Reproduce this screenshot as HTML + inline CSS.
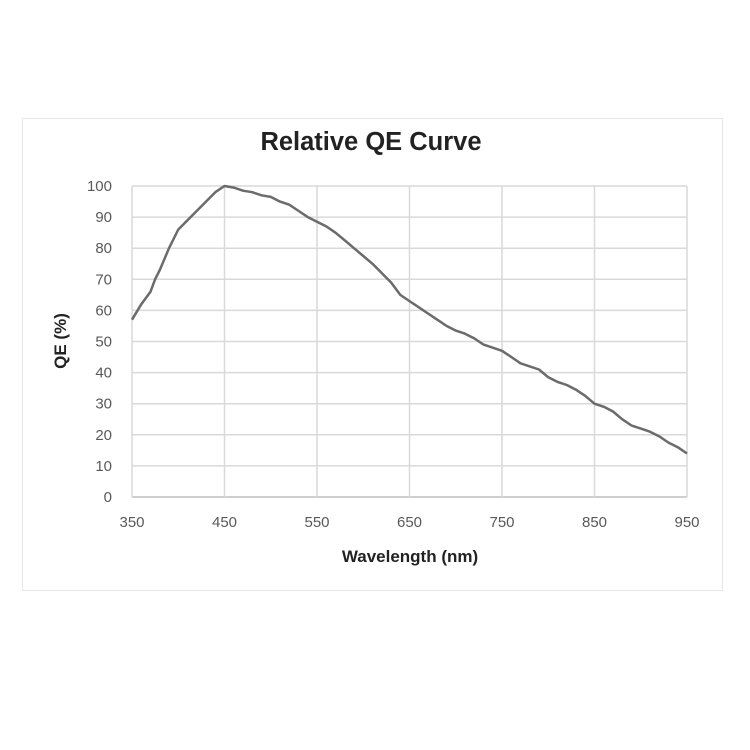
<!DOCTYPE html>
<html><head><meta charset="utf-8"><style>
body{margin:0;background:#fff;}
svg{display:block;font-family:"Liberation Sans",sans-serif;}
</style></head><body>
<svg width="750" height="750">
<rect x="22.5" y="118.5" width="700" height="472" fill="#fff" stroke="#e6e6e6"/>
<text x="371" y="150" text-anchor="middle" font-size="25.5" font-weight="bold" fill="#222">Relative QE Curve</text>
<g id="grid"></g>
<g id="ticks"></g>
<path id="curve" fill="none" stroke="#6b6b6b" stroke-width="2.5" stroke-linejoin="round"/>
<text x="410" y="562" text-anchor="middle" font-size="17" font-weight="bold" fill="#222">Wavelength (nm)</text>
<text transform="translate(66,341) rotate(-90)" text-anchor="middle" font-size="17" font-weight="bold" fill="#222">QE (%)</text>
</svg>
<script>
const wavelengths=[350,360,370,375,380,390,400,410,420,430,440,450,460,470,480,490,500,510,520,530,540,550,560,570,580,590,600,610,620,630,640,650,660,670,680,690,700,710,720,730,740,750,760,770,780,790,800,810,820,830,840,850,860,870,880,890,900,910,920,930,940,950];
const qeValues=[57,62,66,70,73,80,86,89,92,95,98,100,99.5,98.5,98,97,96.5,95,94,92,90,88.5,87,85,82.5,80,77.5,75,72,69,65,63,61,59,57,55,53.5,52.5,51,49,48,47,45,43,42,41,38.5,37,36,34.5,32.5,30,29,27.5,25,23,22,21,19.5,17.5,16,14];
const xTicks=[350,450,550,650,750,850,950];
const yTicks=[0,10,20,30,40,50,60,70,80,90,100];
const X0=132,X1=687,Y0=497,Y1=186;
const xs=v=>X0+(v-350)/600*(X1-X0);
const ys=v=>Y0-v/100*(Y0-Y1);
const NS="http://www.w3.org/2000/svg";
const grid=document.getElementById('grid'),ticks=document.getElementById('ticks');
function mk(tag,attrs,parent){const e=document.createElementNS(NS,tag);for(const k in attrs)e.setAttribute(k,attrs[k]);parent.appendChild(e);return e;}
yTicks.forEach(t=>{
  const l=mk('line',{x1:X0,x2:X1,y1:ys(t),y2:ys(t),stroke:t===0?'#bfbfbf':'#d9d9d9','stroke-width':1.5},grid);
  
  
  const tx=mk('text',{x:112,y:ys(t)+5,'text-anchor':'end','font-size':15,fill:'#595959'},ticks);
  tx.textContent=t;
  
  
});
xTicks.forEach(t=>{
  const l=mk('line',{x1:xs(t),x2:xs(t),y1:Y1,y2:Y0,stroke:'#d9d9d9','stroke-width':1.5},grid);
  
  
  const tx=mk('text',{x:xs(t),y:527,'text-anchor':'middle','font-size':15,fill:'#595959'},ticks);
  tx.textContent=t;
  
  
});
document.getElementById('curve').setAttribute('d',wavelengths.map((w,i)=>(i?'L':'M')+xs(w).toFixed(1)+','+ys(qeValues[i]).toFixed(1)).join(''));
</script>
</body></html>
